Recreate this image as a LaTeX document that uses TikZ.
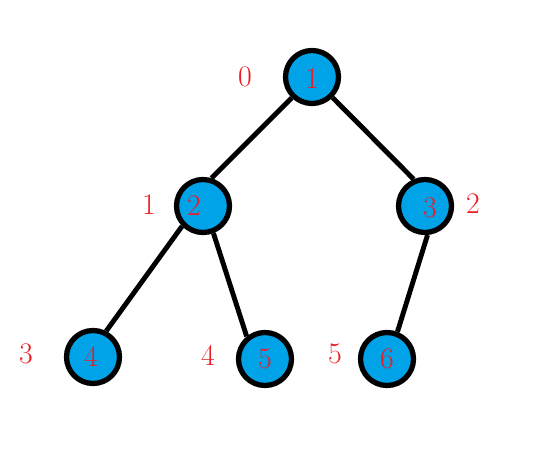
\documentclass[tikz,border=0pt]{standalone}
\usepackage{tikz}
\definecolor{paintblue}{RGB}{0,162,232}
\definecolor{paintred}{RGB}{237,28,36}
\begin{document}
\begin{tikzpicture}[x=0.02cm,y=-0.02cm,
	vertex/.style={ circle, draw, line width=3pt, fill=paintblue, inner sep=0pt, minimum size=1.06cm },
	num/.style={ text=paintred, font=\fontsize{17}{20}\selectfont },
	edge/.style={ line width=2.8pt },
]
\useasboundingbox (0,0) rectangle (550,472);

\node at (312,77) (v1) [vertex,label={[num,yshift=-0.04cm]center:1}] {};
\node at (203,206) (v2) [vertex,label={[num,xshift=-0.18cm]center:2}] {};
\node at (425,206) (v3) [vertex,label={[num,xshift=0.1cm,yshift=-0.04cm]center:3}] {};
\node at (93,357) (v4) [vertex,label={[num,xshift=-0.04cm]center:4}] {};
\node at (265,359) (v5) [vertex,label={[num]center:5}] {};
\node at (387,359) (v6) [vertex,label={[num]center:6}] {};

\node at (245,77) (i1) [num] {0};
\node at (149,205) (i2) [num] {1};
\node at (473,204) (i3) [num] {2};
\node at (26,354) (i4) [num] {3};
\node at (208,356) (i5) [num] {4};
\node at (335,354) (i6) [num] {5};

\foreach \a/\b in {v1.-134/v2.73, v1.-45/v3.113, v2.-136/v4.63, v2.-69/v5.129, v3.-85/v6.69} {
	\draw[edge] (\a) to (\b);
}

\end{tikzpicture}
\end{document}
